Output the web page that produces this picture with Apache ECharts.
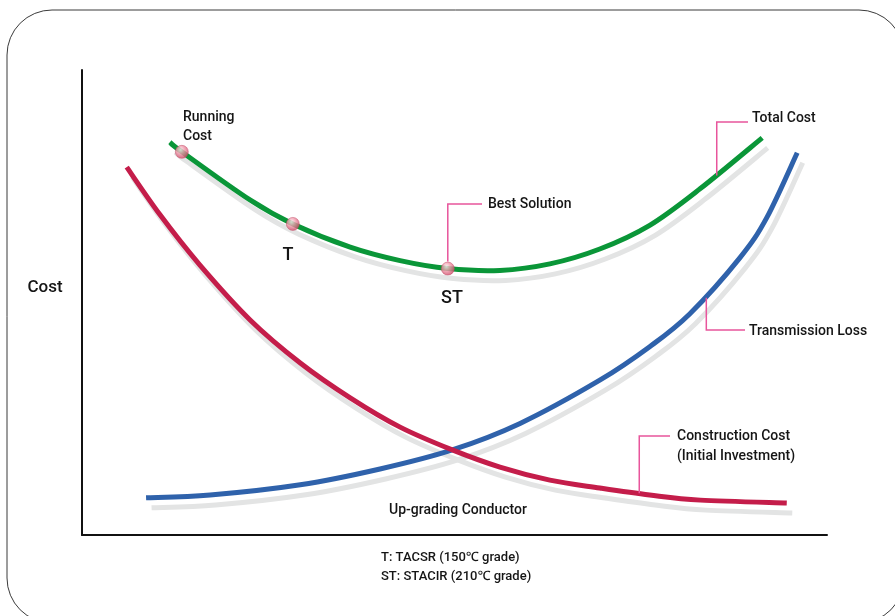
<!DOCTYPE html>
<html><head><meta charset="utf-8">
<script src="https://cdn.jsdelivr.net/npm/echarts@6/dist/echarts.min.js"></script>
<style>html,body{margin:0;padding:0;background:#fff}#c{width:895px;height:616px}</style>
</head><body><div id="c"></div>
<script>
// Curve data (abstract units 0-100 on both axes)
const totalX = [11.8,13.4,22.6,28.3,36.0,42.7,49.1,56.1,62.8,69.5,76.2,83.0,91.3];
const totalY = [84.5,82.4,72.0,66.9,61.9,59.0,57.3,56.9,58.3,61.5,66.6,74.5,85.4];
const constrX = [6.0,10.5,15.8,22.6,29.3,36.0,42.7,49.7,56.1,62.8,69.5,76.2,83.0,94.6];
const constrY = [79.1,68.8,58.1,46.2,37.0,29.5,23.2,18.3,14.6,11.8,10.1,8.6,7.5,6.9];
const lossX = [8.6,17.2,29.3,40.0,49.7,58.8,69.5,76.2,81.6,88.3,91.9,96.0];
const lossY = [8.0,8.6,10.8,14.2,18.3,24.0,33.3,40.5,47.6,59.6,68.2,82.2];
const markerX = [13.4,28.3,49.1];
const markerY = [82.4,66.9,57.3];
const markerNames = ['Running Cost','T','ST'];

const FONT = 'Roboto, "Noto Sans", sans-serif';
const TXT = '#151515';
const GREEN = '#0a9638', RED = '#c41d4a', BLUE = '#2f62ab', SHADOW = '#e3e4e4', PINK = '#e8559c';

const chart = echarts.init(document.getElementById('c'), null, {renderer: 'canvas'});

const axisCommon = (show) => ({
  type: 'value', min: 0, max: 100,
  axisLine: {show: show, lineStyle: {color: '#111', width: 2}},
  axisTick: {show: false}, axisLabel: {show: false}, splitLine: {show: false}
});

// Catmull-Rom spline through pixel points -> SVG path data
function splinePath(pts) {
  let d = 'M' + pts[0][0] + ',' + pts[0][1];
  for (let i = 0; i < pts.length - 1; i++) {
    const p0 = pts[Math.max(0, i - 1)], p1 = pts[i], p2 = pts[i + 1], p3 = pts[Math.min(pts.length - 1, i + 2)];
    const c1 = [p1[0] + (p2[0] - p0[0]) / 6, p1[1] + (p2[1] - p0[1]) / 6];
    const c2 = [p2[0] - (p3[0] - p1[0]) / 6, p2[1] - (p3[1] - p1[1]) / 6];
    d += 'C' + c1[0] + ',' + c1[1] + ',' + c2[0] + ',' + c2[1] + ',' + p2[0] + ',' + p2[1];
  }
  return d;
}

function curveSeries(xs, ys, color, gridIndex, z) {
  return {
    type: 'custom', coordinateSystem: 'cartesian2d', xAxisIndex: gridIndex, yAxisIndex: gridIndex,
    data: [[xs[0], ys[0]]], z: z, silent: true, clip: false,
    renderItem: function (params, api) {
      const pts = xs.map((x, i) => api.coord([x, ys[i]]));
      return {type: 'path', shape: {pathData: splinePath(pts)},
        style: {stroke: color, lineWidth: 5, fill: null, lineCap: 'butt'}};
    }
  };
}

const option = {
  animation: false,
  grid: [
    {left: 82, right: 68, top: 70, bottom: 81},
    {left: 87.5, right: 62.5, top: 80, bottom: 71}
  ],
  xAxis: [axisCommon(true), Object.assign(axisCommon(false), {gridIndex: 1})],
  yAxis: [axisCommon(true), Object.assign(axisCommon(false), {gridIndex: 1})],
  series: [
    curveSeries(totalX, totalY, SHADOW, 1, 1),
    curveSeries(constrX, constrY, SHADOW, 1, 1),
    curveSeries(lossX, lossY, SHADOW, 1, 1),
    curveSeries(lossX, lossY, BLUE, 0, 3),
    curveSeries(constrX, constrY, RED, 0, 3),
    curveSeries(totalX, totalY, GREEN, 0, 3),
    {
      type: 'scatter', xAxisIndex: 0, yAxisIndex: 0, z: 5, symbolSize: 13, silent: true,
      data: markerX.map((x, i) => ({name: markerNames[i], value: [x, markerY[i]]})),
      itemStyle: {
        color: {type: 'radial', x: 0.4, y: 0.35, r: 0.65,
          colorStops: [{offset: 0, color: '#fff0f3'}, {offset: 0.45, color: '#f09aac'}, {offset: 1, color: '#cf4d6a'}]},
        borderColor: '#c24a66', borderWidth: 0.6
      }
    }
  ]
};
chart.setOption(option);

const P = (x, y) => chart.convertToPixel({gridIndex: 0}, [x, y]);
const leaderAnchors = [
  {anchor: [markerX[2], markerY[2] + 1.5], elbowY: 204, endX: 482},
  {anchor: [85.2, 77.3], elbowY: 122, endX: 748},
  {anchor: [83.8, 51.0], elbowY: 330, endX: 745},
  {anchor: [74.8, 9.0], elbowY: 436, endX: 670}
];

const graphics = [
  {type: 'rect', shape: {x: 7, y: 10, width: 897, height: 613, r: 45}, style: {fill: 'none', stroke: '#3a3a3a', lineWidth: 1}, z: 0, silent: true}
];
leaderAnchors.forEach(l => {
  const p = P(l.anchor[0], l.anchor[1]);
  graphics.push({type: 'polyline', shape: {points: [[p[0], p[1]], [p[0], l.elbowY], [l.endX, l.elbowY]]},
    style: {stroke: PINK, lineWidth: 1.5, fill: 'none'}, z: 4, silent: true});
});
function txt(text, x, y, size, align) {
  graphics.push({type: 'text', x: x, y: y, z: 10, silent: true,
    style: {text: text, fill: TXT, font: '500 ' + size + 'px ' + FONT, align: align || 'left', verticalAlign: 'middle', lineHeight: 19}});
}
txt('Running\nCost', 183, 126.5, 14);
txt('T', 288, 255, 18, 'center');
txt('ST', 452, 298, 18, 'center');
txt('Cost', 45, 288, 17, 'center');
txt('Best Solution', 488, 204, 14);
txt('Total Cost', 752, 118, 14);
txt('Transmission Loss', 749, 331, 14);
txt('Construction Cost', 677, 436, 14);
txt('(Initial Investment)', 677, 456, 14);
txt('Up-grading Conductor', 458, 510, 14, 'center');
txt('T: TACSR (150℃ grade)', 381, 558, 13);
txt('ST: STACIR (210℃ grade)', 381, 577, 13);

chart.setOption({graphic: graphics});
</script></body></html>
